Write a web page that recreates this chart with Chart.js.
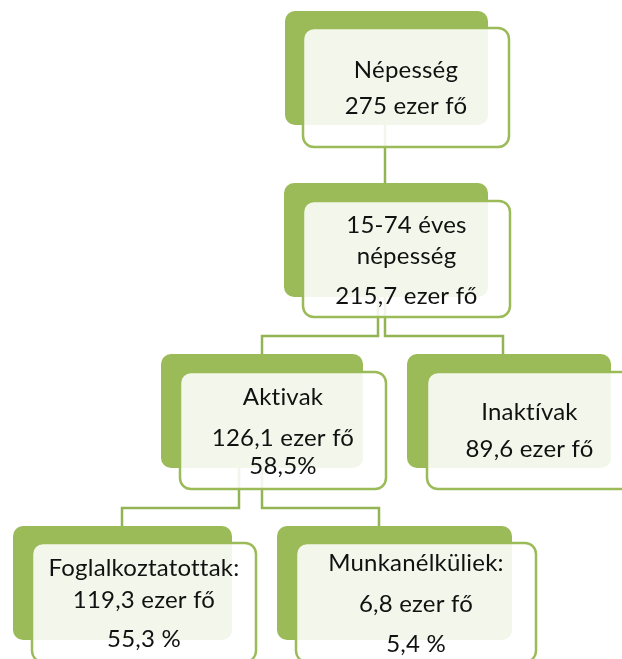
<!DOCTYPE html>
<html>
<head>
<meta charset="utf-8">
<script src="https://cdn.jsdelivr.net/npm/chart.js@4.4.1/dist/chart.umd.min.js"></script>
<style>
  html, body { margin: 0; padding: 0; background: #ffffff; }
  #wrap { width: 622px; height: 659px; }
</style>
</head>
<body>
<div id="wrap"><canvas id="c" width="622" height="659"></canvas></div>
<script>
// ---- data ----
const nodeNames = ['Népesség', '15-74 éves\nnépesség', 'Aktivak', 'Inaktívak', 'Foglalkoztatottak:', 'Munkanélküliek:'];
const nodeValues = [275, 215.7, 126.1, 89.6, 119.3, 6.8];      // ezer fő
const nodeShares = [null, null, 58.5, null, 55.3, 5.4];          // %
const valueUnit = 'ezer fő';
const parentOf = [null, 0, 1, 1, 2, 2];

// ---- layout (scale units = pixels of the 622x659 picture) ----
const layout = [
  { back: [285, 11, 488, 125], front: [303, 28, 509, 147], lineY: [70, 106] },
  { back: [284, 183, 488, 297], front: [303, 201, 510, 317], lineY: [225, 256, 296] },
  { back: [161, 354, 363, 468], front: [180, 372, 386, 489], lineY: [397, 438, 466] },
  { back: [407, 354, 611, 468], front: [427, 372, 632, 489], lineY: [412, 449] },
  { back: [13, 526, 232, 640], front: [32, 543, 256, 662], lineY: [568, 600, 639] },
  { back: [277, 526, 512, 640], front: [296, 543, 536, 662], lineY: [563, 604, 644] }
];
const shareSep = ['', '', '', '', ' ', ' '];
const connectors = [
  [[385, 125], [385, 183]],
  [[378, 297], [378, 336], [262, 336], [262, 354]],
  [[385, 297], [385, 336], [503, 336], [503, 354]],
  [[239, 468], [239, 508], [122, 508], [122, 526]],
  [[262, 468], [262, 508], [379, 508], [379, 526]]
];
const GREEN = '#9bbb59';
const LINE_GREEN = '#93b454';

function fmt(v) { return String(v).replace('.', ','); }
function nodeLines(i) {
  const lines = nodeNames[i].split('\n');
  lines.push(fmt(nodeValues[i]) + ' ' + valueUnit);
  if (nodeShares[i] !== null) lines.push(fmt(nodeShares[i]) + shareSep[i] + '%');
  return lines;
}

const orgPlugin = {
  id: 'orgChart',
  beforeDatasetsDraw(chart) {
    const ctx = chart.ctx;
    const xs = chart.scales.x, ys = chart.scales.y;
    const X = v => xs.getPixelForValue(v), Y = v => ys.getPixelForValue(v);
    ctx.save();
    // connectors
    ctx.strokeStyle = LINE_GREEN;
    ctx.lineWidth = 2.5;
    ctx.lineJoin = 'miter';
    connectors.forEach(pts => {
      ctx.beginPath();
      pts.forEach((p, k) => k ? ctx.lineTo(X(p[0]), Y(p[1])) : ctx.moveTo(X(p[0]), Y(p[1])));
      ctx.stroke();
    });
    // back boxes
    layout.forEach(n => {
      const [x0, y0, x1, y1] = n.back;
      ctx.beginPath();
      ctx.roundRect(X(x0), Y(y0), X(x1) - X(x0), Y(y1) - Y(y0), 10);
      ctx.fillStyle = GREEN;
      ctx.fill();
    });
    // front boxes + text
    layout.forEach((n, i) => {
      const [x0, y0, x1, y1] = n.front;
      ctx.beginPath();
      ctx.roundRect(X(x0), Y(y0), X(x1) - X(x0), Y(y1) - Y(y0), 11);
      ctx.fillStyle = 'rgba(255,255,255,0.88)';
      ctx.fill();
      ctx.strokeStyle = GREEN;
      ctx.lineWidth = 2.5;
      ctx.stroke();
      const cx = (X(x0) + X(x1)) / 2;
      ctx.fillStyle = '#111111';
      ctx.font = '24px Lato, "Open Sans", sans-serif';
      if ('letterSpacing' in ctx) ctx.letterSpacing = '0.2px';
      ctx.textAlign = 'center';
      ctx.textBaseline = 'middle';
      nodeLines(i).forEach((t, k) => ctx.fillText(t, cx, Y(n.lineY[k])));
    });
    ctx.restore();
  }
};

new Chart(document.getElementById('c'), {
  type: 'scatter',
  data: {
    datasets: [{
      data: layout.map((n, i) => ({ x: (n.front[0] + n.front[2]) / 2, y: (n.front[1] + n.front[3]) / 2, v: nodeValues[i] })),
      pointRadius: 0,
      pointHoverRadius: 0
    }]
  },
  options: {
    responsive: false,
    animation: false,
    layout: { padding: 0 },
    plugins: { legend: { display: false }, tooltip: { enabled: false } },
    scales: {
      x: { type: 'linear', min: 0, max: 622, display: false },
      y: { type: 'linear', min: 0, max: 659, reverse: true, display: false }
    }
  },
  plugins: [orgPlugin]
});
</script>
</body>
</html>
